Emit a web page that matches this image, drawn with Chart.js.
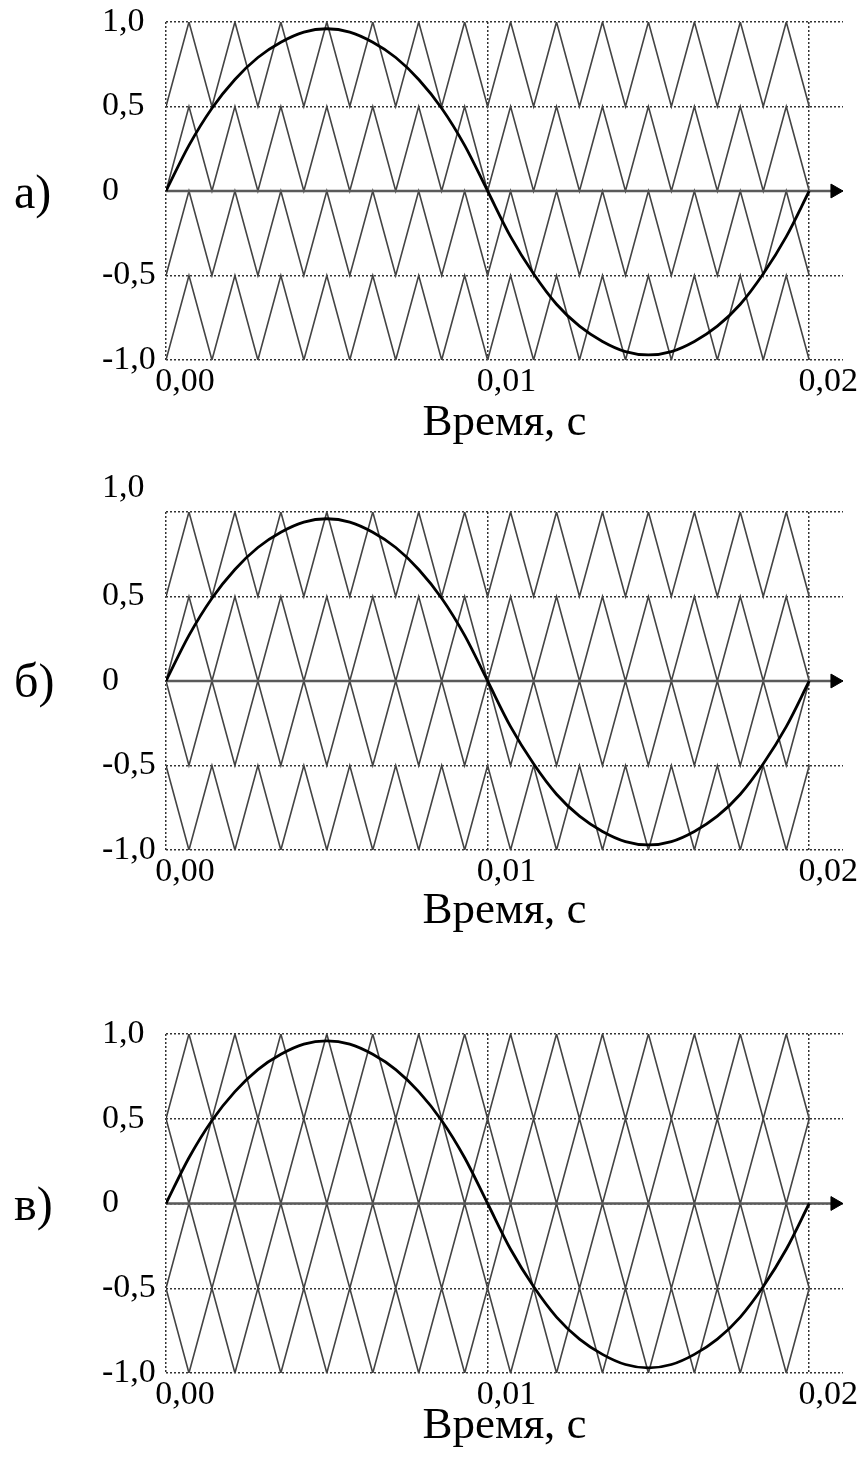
<!DOCTYPE html>
<html>
<head>
<meta charset="utf-8">
<script src="https://cdn.jsdelivr.net/npm/chart.js@4.4.1/dist/chart.umd.min.js"></script>
<style>
  html, body { margin: 0; padding: 0; background: #fff; overflow: hidden; }
  body { position: relative; width: 857px; height: 1459px; }
  canvas { position: absolute; left: 0; }
  .tag { position: absolute; left: 14px; font: 48px 'Liberation Serif'; line-height: 48px; color: #000; }
</style>
</head>
<body>
<canvas id="chartA" width="857" height="460" style="top:0px"></canvas>
<canvas id="chartB" width="857" height="500" style="top:450px"></canvas>
<canvas id="chartC" width="857" height="459" style="top:1000px"></canvas>
<div class="tag" id="tagA" style="top:168px"></div>
<div class="tag" id="tagB" style="top:657px"></div>
<div class="tag" id="tagC" style="top:1180px"></div>
<script>
// axis ticks and labels
const xTicks = [0, 0.01, 0.02];
const xTickLabels = ['0,00', '0,01', '0,02'];
const yTicks = [-1, -0.5, 0, 0.5, 1];
const yTickLabels = ['-1,0', '-0,5', '0', '0,5', '1,0'];
const axisTitle = 'Время, с';
const panelNames = ['а)', 'б)', 'в)'];

// modulating wave (s, p.u.)
const refTime = [0, 0.000714, 0.001429, 0.002143, 0.002857, 0.003571, 0.004286, 0.005,
  0.005714, 0.006429, 0.007143, 0.007857, 0.008571, 0.009286, 0.01,
  0.010714, 0.011429, 0.012143, 0.012857, 0.013571, 0.014286, 0.015,
  0.015714, 0.016429, 0.017143, 0.017857, 0.018571, 0.019286, 0.02];
const refValue = [0, 0.27, 0.49, 0.66, 0.79, 0.88, 0.94, 0.96,
  0.94, 0.88, 0.79, 0.66, 0.49, 0.27, 0,
  -0.27, -0.49, -0.67, -0.80, -0.89, -0.95, -0.97,
  -0.95, -0.89, -0.80, -0.67, -0.49, -0.27, 0];

// triangle carriers: vertex times (14 periods in 0.02 s) and bands
const carrierTime = [0, 0.000714, 0.001429, 0.002143, 0.002857, 0.003571, 0.004286, 0.005,
  0.005714, 0.006429, 0.007143, 0.007857, 0.008571, 0.009286, 0.01,
  0.010714, 0.011429, 0.012143, 0.012857, 0.013571, 0.014286, 0.015,
  0.015714, 0.016429, 0.017143, 0.017857, 0.018571, 0.019286, 0.02];
const bandLow = [0.5, 0, -0.5, -1];
const bandHigh = [1, 0.5, 0, -0.5];
// 0 = carrier starts at bottom of its band at t=0, 1 = starts at top
const phaseA = [0, 0, 0, 0];   // PD
const phaseB = [0, 0, 1, 1];   // POD
const phaseC = [0, 1, 0, 1];   // APOD

const axisArrowEnd = 0.0208;

const FONT = "'Liberation Serif', 'Times New Roman', serif";

const panels = [
  { id: 'chartA', tag: 'tagA', phase: phaseA, padTop: 22, axisH: 100, titlePad: 10, liftTop: false },
  { id: 'chartB', tag: 'tagB', phase: phaseB, padTop: 62, axisH: 100, titlePad: 12, liftTop: true },
  { id: 'chartC', tag: 'tagC', phase: phaseC, padTop: 34, axisH: 86, titlePad: 6, liftTop: false }
];

function carrierData(band, phase) {
  return carrierTime.map((t, i) => ({
    x: t,
    y: (i + phase) % 2 === 0 ? bandLow[band] : bandHigh[band]
  }));
}

panels.forEach((p, k) => {
  document.getElementById(p.tag).textContent = panelNames[k];

  const carriers = bandLow.map((_, b) => ({
    data: carrierData(b, p.phase[b]),
    borderColor: '#444',
    borderWidth: 1.6,
    pointRadius: 0,
    tension: 0
  }));

  const datasets = [
    {
      data: refTime.map((t, i) => ({ x: t, y: refValue[i] })),
      borderColor: '#000',
      borderWidth: 2.8,
      pointRadius: 0,
      cubicInterpolationMode: 'monotone'
    },
    {
      data: [{ x: 0, y: 0 }, { x: axisArrowEnd, y: 0 }],
      borderColor: '#5a5a5a',
      borderWidth: 2.6,
      pointRadius: [0, 8],
      pointStyle: 'triangle',
      pointRotation: 90,
      pointBackgroundColor: '#000',
      pointBorderColor: '#000',
      pointBorderWidth: 1,
      clip: false
    },
    ...carriers
  ];

  new Chart(document.getElementById(p.id), {
    type: 'line',
    data: { datasets },
    options: {
      responsive: false,
      animation: false,
      events: [],
      layout: { padding: { left: 102, right: 14, top: p.padTop, bottom: 0 } },
      plugins: { legend: { display: false }, tooltip: { enabled: false } },
      scales: {
        x: {
          type: 'linear',
          min: 0,
          max: 0.02105,
          afterBuildTicks: s => { s.ticks = xTicks.map(v => ({ value: v })); },
          afterFit: s => { s.height = p.axisH; },
          grid: { color: '#333', lineWidth: 1.5, drawTicks: false },
          border: { display: false, dash: [2, 2] },
          ticks: {
            autoSkip: false,
            maxRotation: 0,
            padding: 2,
            labelOffset: 19,
            color: '#000',
            font: { family: FONT, size: 34 },
            callback: (v) => xTickLabels[xTicks.indexOf(v)]
          },
          title: {
            display: true,
            text: axisTitle,
            color: '#000',
            font: { family: FONT, size: 45 },
            padding: { top: 0, bottom: p.titlePad }
          }
        },
        y: {
          min: -1,
          max: 1,
          afterBuildTicks: s => { s.ticks = yTicks.map(v => ({ value: v })); },
          afterFit: s => { s.width = 64; },
          grid: { color: '#333', lineWidth: 1.5, drawTicks: false },
          border: { display: false, dash: [2, 2] },
          ticks: {
            autoSkip: false,
            crossAlign: 'far',
            padding: 0,
            color: '#000',
            font: { family: FONT, size: 34, lineHeight: p.liftTop ? 1.4 : 1.2 },
            callback: (v) => {
              const lbl = yTickLabels[yTicks.indexOf(v)];
              // in panel б the top label sits above its grid line
              return (p.liftTop && v === 1) ? [lbl, ''] : lbl;
            }
          }
        }
      }
    }
  });
});
</script>
</body>
</html>
